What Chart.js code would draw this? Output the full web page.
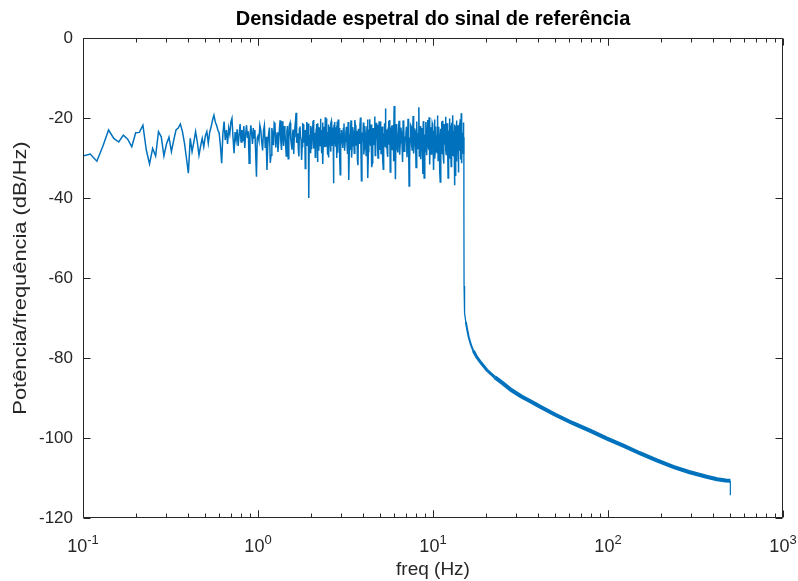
<!DOCTYPE html>
<html>
<head>
<meta charset="utf-8">
<title>Densidade espetral</title>
<script src="https://cdn.jsdelivr.net/npm/chart.js@4.4.1/dist/chart.umd.min.js"></script>
<style>
  html, body { margin: 0; padding: 0; background: #ffffff; }
  #wrap { width: 798px; height: 581px; }
</style>
</head>
<body>
<div id="wrap"><canvas id="psdChart" width="798" height="581"></canvas></div>
<script>
// faixa 0.10 .. 0.99 Hz, passo 0.01 Hz
const lowStart = 0.10, lowStep = 0.01;
const lowDb = [
  -29.5, -29.0, -30.8, -27.0, -23.0, -25.1, -26.0, -24.3, -25.3, -27.2,
  -23.7, -23.6, -21.8, -28.0, -31.5, -27.6, -29.5, -23.4, -24.7, -29.5,
  -26.5, -24.8, -28.4, -25.5, -23.0, -22.5, -21.5, -23.4, -26.3, -30.0,
  -33.8, -25.1, -28.4, -26.0, -23.4, -26.0, -29.3, -27.0, -25.1, -27.2,
  -24.5, -23.4, -26.3, -23.5, -22.2, -20.5, -19.3, -21.0, -21.8, -23.0,
  -23.8, -27.0, -31.3, -24.0, -20.9, -25.5, -23.0, -26.5, -22.5, -24.0,
  -21.0, -20.1, -25.0, -28.8, -23.5, -25.5, -22.8, -27.0, -24.2, -21.5,
  -26.0, -23.0, -25.8, -22.0, -27.5, -24.0, -21.8, -25.0, -23.3, -31.3,
  -24.5, -21.8, -24.0, -26.5, -22.5, -25.0, -23.0, -29.0, -34.7, -25.0
];

// faixa 1.000 .. 2.9875 Hz, passo 0.025 Hz (dois entrelaçados)
const midStart = 1.0, midStep = 0.025;
const midDb = [
  -24.5, -21.8, -26.0, -23.2, -27.5, -33.0, -24.0, -31.2, -22.5, -26.8,
  -21.5, -25.2, -28.5, -22.8, -25.8, -20.8, -27.0, -23.5, -29.5, -22.0,
  -25.5, -21.2, -26.5, -24.0, -29.0, -22.3, -18.7, -25.0, -27.8, -22.7,
  -24.8, -30.5, -21.5, -26.2, -23.0, -27.3, -21.0, -25.5, -40.0, -24.2,
  -22.0, -27.8, -23.5, -20.5, -26.5, -29.8, -22.8, -25.3, -21.3, -28.2,
  -24.5, -20.2, -26.8, -23.0, -31.5, -22.2, -25.8, -19.8, -27.0, -23.8,
  -29.2, -21.6, -25.0, -22.4, -28.4, -20.8, -26.0, -23.2, -36.3, -24.6,
  -21.0, -27.2, -22.6, -30.0, -24.0, -20.4, -26.4, -22.9, -34.2, -25.1
];
const midStartB = 1.0125;
const midDbB = [
  -25.6, -23.0, -28.1, -21.9, -24.7, -26.9, -22.4, -29.3, -24.1, -21.2,
  -27.4, -23.6, -25.9, -20.6, -28.0, -24.4, -22.0, -26.6, -23.3, -30.2,
  -21.7, -25.1, -27.9, -22.9, -24.6, -20.9, -26.2, -23.8, -29.6, -22.1,
  -25.4, -27.1, -21.6, -24.3, -32.6, -23.1, -26.8, -21.4, -25.7, -28.6,
  -22.6, -24.9, -20.7, -27.6, -23.7, -26.0, -21.5, -31.0, -24.2, -22.3,
  -26.9, -23.4, -28.8, -21.1, -25.3, -22.8, -27.3, -24.8, -20.1, -26.3,
  -23.5, -29.9, -22.2, -25.6, -21.3, -27.0, -24.0, -22.7, -28.3, -21.9,
  -25.9, -23.0, -26.6, -20.9, -28.7, -24.4, -22.5, -30.3, -23.9, -26.1
];

// faixa 3.000 .. 5.975 Hz, passo 0.05 Hz (dois entrelaçados)
const hiStart = 3.0, hiStep = 0.05;
const hiDb = [
  -23.0, -27.5, -21.4, -25.8, -22.2, -29.0, -35.5, -24.3, -20.6, -26.9,
  -23.4, -28.8, -21.8, -25.2, -30.5, -22.7, -26.3, -19.9, -35.7, -24.8,
  -21.1, -27.6, -23.9, -29.4, -22.0, -35.0, -25.5, -20.3, -27.0, -23.1,
  -31.2, -22.5, -25.9, -19.6, -28.1, -24.2, -21.7, -30.0, -23.6, -26.6,
  -20.9, -28.9, -24.5, -22.1, -32.8, -25.4, -21.3, -17.6, -27.4, -23.3,
  -29.7, -22.4, -26.1, -20.5, -33.5, -24.7, -21.9, -27.9, -23.0, -30.8
];
const hiStartB = 3.025;
const hiDbB = [
  -25.1, -22.6, -28.2, -23.9, -26.7, -21.0, -27.8, -24.1, -29.9, -22.3,
  -25.6, -20.5, -26.9, -23.2, -31.8, -24.5, -21.9, -27.5, -23.6, -25.9,
  -29.1, -22.0, -26.4, -24.2, -20.4, -28.4, -23.0, -25.7, -21.6, -32.3,
  -24.8, -26.8, -22.8, -29.4, -21.2, -25.3, -27.7, -23.5, -20.8, -28.0,
  -24.6, -22.2, -26.2, -30.6, -23.8, -21.5, -27.0, -25.0, -22.9, -28.7,
  -24.3, -20.7, -26.5, -23.1, -29.6, -22.4, -25.2, -27.3, -21.8, -24.9
];

// faixa 6.00 .. 15.0 Hz, passo 0.1 Hz (dois entrelaçados)
const topStart = 6.0, topStep = 0.1;
const topDb = [
  -17.0, -35.3, -22.8, -28.6, -20.7, -26.2, -23.5, -31.0, -21.4, -27.3,
  -24.0, -29.8, -20.2, -37.0, -25.0, -22.1, -28.0, -19.5, -26.8, -23.2,
  -32.4, -21.6, -27.1, -17.3, -25.6, -30.3, -22.5, -28.5, -20.8, -35.0,
  -24.1, -21.0, -29.3, -23.7, -26.9, -19.8, -31.6, -22.9, -27.7, -21.3,
  -25.7, -33.0, -20.4, -28.3, -23.4, -26.4, -19.4, -30.6, -22.2, -27.5,
  -36.0, -24.6, -20.9, -28.9, -23.1, -31.4, -21.5, -26.7, -19.7, -29.1,
  -22.7, -27.2, -35.0, -23.8, -20.1, -28.6, -24.9, -32.1, -21.2, -26.0,
  -19.3, -29.6, -23.3, -36.8, -22.0, -27.4, -20.6, -30.9, -24.3, -21.8,
  -33.6, -22.9, -28.2, -20.3, -26.5, -18.8, -31.3, -23.6, -27.9, -21.1,
  -24.8
];
const topStartB = 6.05;
const topDbB = [
  -24.4, -21.5, -27.8, -23.0, -29.2, -22.4, -26.1, -20.6, -28.3, -24.8,
  -22.2, -27.0, -25.3, -30.7, -21.8, -26.6, -23.9, -28.9, -22.6, -25.4,
  -20.9, -27.6, -24.0, -29.5, -22.0, -26.2, -23.6, -34.0, -21.4, -25.8,
  -28.4, -22.8, -26.0, -20.5, -27.9, -24.5, -22.3, -29.0, -25.1, -21.7,
  -27.3, -23.2, -30.2, -22.1, -25.9, -28.7, -21.0, -26.5, -24.2, -33.2,
  -22.7, -27.7, -25.5, -20.7, -29.8, -23.5, -26.3, -22.4, -28.1, -24.7,
  -21.3, -26.9, -23.1, -30.0, -25.2, -21.9, -27.5, -24.4, -29.3, -22.9,
  -26.4, -28.6, -21.6, -25.7, -34.5, -23.4, -27.1, -22.1, -26.7, -29.7,
  -23.7, -21.2, -27.6, -25.0, -30.4, -22.5, -26.8, -24.1, -28.8, -23.3
];

// queda apos o corte e decaimento ate 500 Hz
const rollFreq = [15.0, 15.02, 15.05, 15.1, 15.2, 15.4, 15.7, 16.0, 16.5, 17.0,
  17.8, 18.8, 20.3, 22.5, 25, 28, 32, 36, 41, 50,
  63, 80, 98, 125, 152, 190, 236, 290, 366, 420,
  470, 500, 500];
const rollDb = [-24.8, -45, -62, -66.5, -68.8, -71, -73, -74.8, -76.8, -78.2,
  -79.8, -81.2, -83, -84.8, -86.3, -88, -89.6, -90.8, -92.2, -94.2,
  -96.3, -98.3, -100.1, -102.1, -103.8, -105.6, -107.2, -108.5, -109.7, -110.3,
  -110.6, -110.7, -114.3];

const decades = [0.1, 1, 10, 100, 1000];
const decadeExp = ['-1', '0', '1', '2', '3'];
const yLabel = 'Potência/frequência (dB/Hz)';

const FONT = "'Liberation Sans', Arial, Helvetica, sans-serif";
const AXIS = '#262626';
const BLUE = '#0072BD';

function gridPoints(start, step, values) {
  return values.map((v, i) => ({ x: +(start + i * step).toFixed(4), y: v }));
}

const noisePts = [].concat(
  gridPoints(lowStart, lowStep, lowDb),
  gridPoints(midStart, midStep, midDb),
  gridPoints(midStartB, midStep, midDbB),
  gridPoints(hiStart, hiStep, hiDb),
  gridPoints(hiStartB, hiStep, hiDbB),
  gridPoints(topStart, topStep, topDb),
  gridPoints(topStartB, topStep, topDbB)
).sort((a, b) => a.x - b.x);
const rollPts = rollFreq.map((f, i) => ({ x: f, y: rollDb[i] }));

// caixa dos eixos, marcas para dentro, rotulos 10^n e rotulo do eixo y
const matlabAxes = {
  id: 'matlabAxes',
  afterDraw(chart) {
    const { ctx, chartArea: { left, right, top, bottom }, scales: { x, y } } = chart;
    const L = Math.round(left) + 0.5, R = Math.round(right) - 0.5;
    const T = Math.round(top) + 0.5, B = Math.round(bottom) - 0.5;
    ctx.save();
    ctx.strokeStyle = AXIS;
    ctx.lineWidth = 1;
    ctx.beginPath();
    ctx.rect(L, T, R - L, B - T);
    for (let d = 0.1; d < 1000; d *= 10) {
      for (let m = 1; m <= 10; m++) {
        const v = d * m;
        if (v > 1000.0001) break;
        const px = Math.round(x.getPixelForValue(v)) + 0.5;
        const len = (m === 1 || m === 10) ? 7 : 4;
        ctx.moveTo(px, B); ctx.lineTo(px, B - len);
        ctx.moveTo(px, T); ctx.lineTo(px, T + len);
      }
    }
    for (let v = -120; v <= 0; v += 20) {
      const py = Math.round(y.getPixelForValue(v)) + 0.5;
      ctx.moveTo(L, py); ctx.lineTo(L + 7, py);
      ctx.moveTo(R, py); ctx.lineTo(R - 7, py);
    }
    ctx.stroke();

    ctx.fillStyle = AXIS;
    ctx.textBaseline = 'alphabetic';
    ctx.textAlign = 'left';
    decades.forEach((v, i) => {
      const px = x.getPixelForValue(v);
      ctx.font = '18px ' + FONT;
      const w1 = ctx.measureText('10').width;
      ctx.font = '13px ' + FONT;
      const w2 = ctx.measureText(decadeExp[i]).width;
      const x0 = px - (w1 + w2) / 2;
      ctx.font = '18px ' + FONT;
      ctx.fillText('10', x0, bottom + 34);
      ctx.font = '13px ' + FONT;
      ctx.fillText(decadeExp[i], x0 + w1, bottom + 26);
    });

    // rotulo do eixo y (texto um pouco alongado, como no original)
    ctx.translate(21, (top + bottom) / 2);
    ctx.rotate(-Math.PI / 2);
    ctx.scale(1.15, 1);
    ctx.font = '19px ' + FONT;
    ctx.textAlign = 'center';
    ctx.textBaseline = 'middle';
    ctx.fillText(yLabel, 0, 0);
    ctx.restore();
  }
};

const ctx = document.getElementById('psdChart').getContext('2d');
new Chart(ctx, {
  type: 'line',
  data: {
    datasets: [
      {
        label: 'ruido',
        data: noisePts,
        borderColor: BLUE,
        borderWidth: 1.5,
        pointRadius: 0,
        tension: 0
      },
      {
        label: 'decaimento',
        data: rollPts,
        borderColor: BLUE,
        borderWidth: 1,
        pointRadius: 0,
        tension: 0,
        segment: {
          borderWidth: c => {
            const f = c.p0.parsed.x;
            if (f >= 499) return 1.2;
            if (f < 15.3) return 1.3;
            if (f < 17) return 2;
            if (f < 22) return 3;
            return 4;
          }
        }
      }
    ]
  },
  options: {
    responsive: false,
    animation: false,
    parsing: false,
    normalized: true,
    layout: { padding: { left: 0, right: 15, top: 0, bottom: 0 } },
    plugins: {
      legend: { display: false },
      tooltip: { enabled: false },
      title: {
        display: true,
        fullSize: false,
        text: 'Densidade espetral do sinal de referência',
        color: '#000000',
        font: { family: FONT, size: 20, weight: 'bold' },
        padding: { top: 7, bottom: 7 }
      }
    },
    scales: {
      x: {
        type: 'logarithmic',
        min: 0.1,
        max: 1000,
        grid: { display: false, drawTicks: false },
        border: { display: false },
        ticks: { display: false },
        title: {
          display: true,
          text: 'freq (Hz)',
          color: AXIS,
          font: { family: FONT, size: 19 },
          padding: { top: 0, bottom: 0 }
        },
        afterFit: s => { s.height = 63; }
      },
      y: {
        min: -120,
        max: 0,
        grid: { display: false, drawTicks: false },
        border: { display: false },
        ticks: {
          stepSize: 20,
          color: AXIS,
          padding: 10,
          font: { family: FONT, size: 17 }
        },
        afterFit: s => { s.width = 83; }
      }
    }
  },
  plugins: [matlabAxes]
});
</script>
</body>
</html>
